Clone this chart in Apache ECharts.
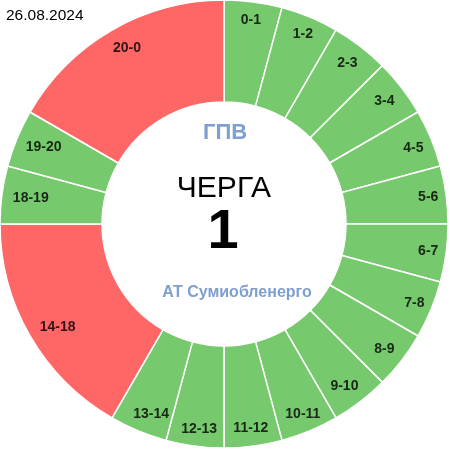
<!DOCTYPE html>
<html>
<head>
<meta charset="utf-8">
<script src="https://cdn.jsdelivr.net/npm/echarts@6/dist/echarts.min.js"></script>
<style>html,body{margin:0;padding:0;background:#fff;}#c{width:450px;height:450px;}</style>
</head>
<body>
<div id="c"></div>
<script>
const dateText = '26.08.2024';
const titleTop = 'ГПВ';
const titleMain = 'ЧЕРГА';
const queueNumber = '1';
const companyName = 'АТ Сумиобленерго';
const periods = ['0-1','1-2','2-3','3-4','4-5','5-6','6-7','7-8','8-9','9-10','10-11','11-12','12-13','13-14','14-18','18-19','19-20','20-0'];
const hours = [1,1,1,1,1,1,1,1,1,1,1,1,1,1,4,1,1,4];
const outage = [0,0,0,0,0,0,0,0,0,0,0,0,0,0,1,0,0,1];

const GREEN = '#76c96c';
const RED = '#ff6666';
const BLUE = '#7f9fcf';
const FONT = '"Liberation Sans", Arial, sans-serif';

// small label nudges (styling only)
const labelNudge = {
  '2-3': [-2, 3], '3-4': [-3, 3], '4-5': [-1, 3], '8-9': [-3, 0], '9-10': [-5, -1],
  '12-13': [2, 1], '13-14': [6, 0], '14-18': [12, 0], '18-19': [11, 1], '19-20': [10, 2], '20-0': [6, 3]
};

const ringData = periods.map((p, i) => ({
  name: p, value: hours[i],
  itemStyle: { color: outage[i] ? RED : GREEN }
}));
const labelData = periods.map((p, i) => ({
  name: p, value: hours[i],
  label: { offset: labelNudge[p] || [0, 0] }
}));

const chart = echarts.init(document.getElementById('c'), null, { renderer: 'canvas' });
chart.setOption({
  animation: false,
  backgroundColor: '#fff',
  series: [
    {
      type: 'pie',
      center: [224, 224],
      radius: [122, 224],
      startAngle: 90,
      clockwise: true,
      silent: true,
      itemStyle: { borderColor: '#fff', borderWidth: 1.5 },
      label: { show: false },
      labelLine: { show: false },
      data: ringData
    },
    {
      type: 'pie',
      center: [224, 224],
      radius: [182, 224],
      startAngle: 90,
      clockwise: true,
      silent: true,
      itemStyle: { color: 'rgba(0,0,0,0)', borderWidth: 0 },
      label: {
        show: true, position: 'inside',
        formatter: '{b}',
        color: 'rgba(0,0,0,0.8)',
        fontFamily: FONT, fontWeight: 'bold', fontSize: 14
      },
      labelLine: { show: false },
      data: labelData
    }
  ],
  graphic: [
    { type: 'text', left: 6, top: 8, style: { text: dateText, font: '15.5px ' + FONT, fill: '#000' } },
    { type: 'text', x: 225, y: 133, style: { text: titleTop, font: 'bold 22px ' + FONT, fill: BLUE, align: 'center', verticalAlign: 'middle' } },
    { type: 'text', x: 224, y: 189, style: { text: titleMain, font: '30px ' + FONT, fill: '#000', align: 'center', verticalAlign: 'middle' } },
    { type: 'text', x: 223, y: 233, style: { text: queueNumber, font: 'bold 56px ' + FONT, fill: '#000', align: 'center', verticalAlign: 'middle' } },
    { type: 'text', x: 237, y: 293, style: { text: companyName, font: 'bold 16px ' + FONT, fill: BLUE, align: 'center', verticalAlign: 'middle' } }
  ]
});
</script>
</body>
</html>
